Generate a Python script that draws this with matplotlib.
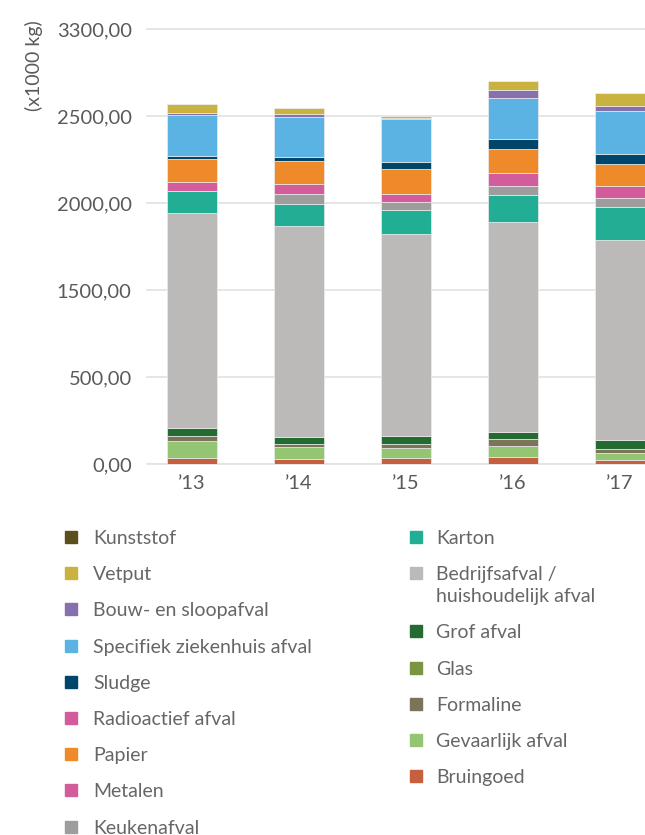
import matplotlib
matplotlib.use("Agg")
import matplotlib.pyplot as plt
from matplotlib.patches import Rectangle
import numpy as np

# --- data (x1000 kg), stack order bottom -> top ---
years = ["’13", "’14", "’15", "’16", "’17"]
bruingoed = [48, 40, 48, 55, 33]
gevaarlijk = [129, 91, 76, 83, 53]
formaline = [36, 20, 30, 51, 30]
glas = [3, 3, 2, 4, 3]
grof = [60, 53, 59, 51, 65]
bedrijfsafval = [1633, 1601, 1532, 1593, 1517]
karton = [167, 167, 182, 207, 253]
keukenafval = [0, 76, 61, 66, 66]
metalen = [66, 76, 61, 101, 91]
papier = [174, 174, 190, 182, 167]
radioactief = [0, 0, 0, 0, 0]
sludge = [23, 30, 53, 76, 76]
specifiek = [311, 303, 326, 309, 329]
bouw = [15, 23, 8, 61, 36]
vetput = [68, 46, 15, 71, 99]
kunststof = [0, 0, 0, 0, 0]

series = [
    ("Bruingoed", bruingoed, "#c55f3f"),
    ("Gevaarlijk afval", gevaarlijk, "#93c572"),
    ("Formaline", formaline, "#7b735a"),
    ("Glas", glas, "#7b9442"),
    ("Grof afval", grof, "#236b30"),
    ("Bedrijfsafval /\nhuishoudelijk afval", bedrijfsafval, "#bbbab8"),
    ("Karton", karton, "#22ae94"),
    ("Keukenafval", keukenafval, "#9e9d9d"),
    ("Metalen", metalen, "#d25c9c"),
    ("Papier", papier, "#ef8a2a"),
    ("Radioactief afval", radioactief, "#d25c9c"),
    ("Sludge", sludge, "#00466b"),
    ("Specifiek ziekenhuis afval", specifiek, "#5ab3e3"),
    ("Bouw- en sloopafval", bouw, "#8670ad"),
    ("Vetput", vetput, "#c9b23f"),
    ("Kunststof", kunststof, "#5c4f1e"),
]

ytick_vals = [0, 660, 1320, 1980, 2640, 3300]
ytick_labels = ["0,00", "500,00", "1500,00", "2000,00", "2500,00", "3300,00"]

W, H = 645, 835
FONT = ["Lato", "DejaVu Sans"]
TXT = "#5a5a5a"


def fx(px):
    return px / W


def fy(py):
    return 1 - py / H


fig = plt.figure(figsize=(W / 100, H / 100), dpi=100)
ax = fig.add_axes([fx(147), fy(464.3), 1 - fx(147), fy(29.3) - fy(464.3)])

x = np.arange(len(years))
bottom = np.zeros(len(years))
for name, vals, color in series:
    vals = np.array(vals, dtype=float)
    ax.bar(x, vals, 0.473, bottom=bottom, color=color,
           edgecolor="#ececec", linewidth=0.5, zorder=3)
    bottom += vals

ax.set_xlim(-0.4206, 4.234)
ax.set_ylim(0, 3300)
ax.set_yticks(ytick_vals)
ax.set_yticklabels(ytick_labels)
ax.set_xticks(x)
ax.set_xticklabels(years)
ax.tick_params(axis="both", length=0, labelsize=14.5, labelcolor=TXT)
ax.tick_params(axis="y", pad=11)
ax.tick_params(axis="x", pad=8)
for lab in ax.get_xticklabels() + ax.get_yticklabels():
    lab.set_family(FONT)

ax.yaxis.grid(True, color="#e2e2e2", linewidth=1.2, zorder=0)
for gl in ax.get_ygridlines():
    gl.set_clip_on(False)
for s in ax.spines.values():
    s.set_visible(False)
ax.axhline(0, color="#e6e6e6", linewidth=2, zorder=1)

fig.text(fx(34), fy(66), "(x1000 kg)", rotation=90, ha="center", va="center",
         fontsize=14, color=TXT, family=FONT)

# --- legend, drawn in two columns (top of stack first) ---
legend_items = [(n, c) for n, v, c in series][::-1]
columns = [(legend_items[:9], 65, 93), (legend_items[9:], 410, 436)]
row_step = 36.2
line_step = 22
for items, mx, tx in columns:
    yc = 537
    for name, color in items:
        fig.add_artist(Rectangle((fx(mx), fy(yc + 6)), fx(12), fy(0) - fy(12),
                                 transform=fig.transFigure, color=color))
        lines = name.split("\n")
        for i, line in enumerate(lines):
            fig.text(fx(tx), fy(yc + 7 + i * line_step), line, ha="left",
                     va="baseline", fontsize=14, color="#666666", family=FONT)
        yc += row_step + line_step * (len(lines) - 1)

fig.savefig("out.png", dpi=100)
